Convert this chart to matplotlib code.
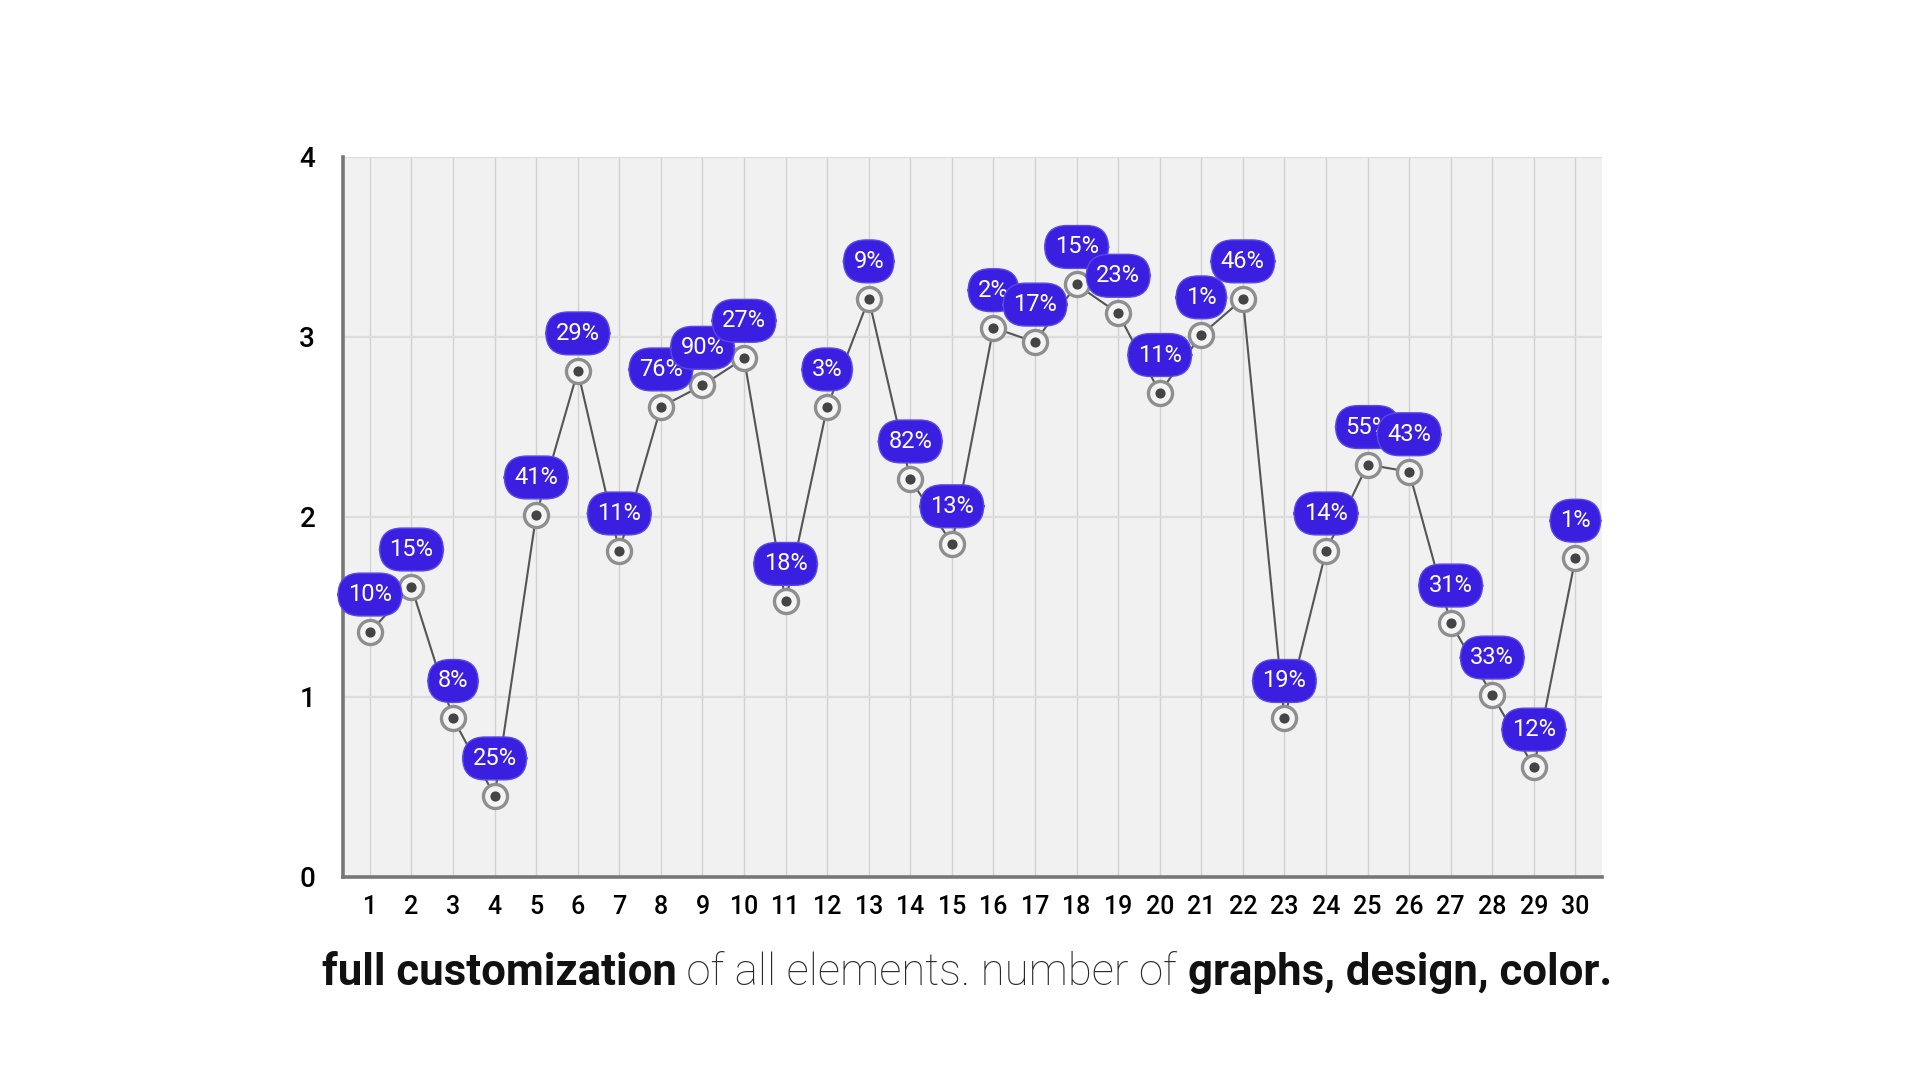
import matplotlib.pyplot as plt
import numpy as np

days = list(range(1, 31))
values = [1.36, 1.61, 0.88, 0.45, 2.01, 2.81, 1.81, 2.61, 2.73, 2.88,
          1.53, 2.61, 3.21, 2.21, 1.85, 3.05, 2.97, 3.29, 3.13, 2.69,
          3.01, 3.21, 0.88, 1.81, 2.29, 2.25, 1.41, 1.01, 0.61, 1.77]
percents = [10, 15, 8, 25, 41, 29, 11, 76, 90, 27,
            18, 3, 9, 82, 13, 2, 17, 15, 23, 11,
            1, 46, 19, 14, 55, 43, 31, 33, 12, 1]
y_ticks = [0, 1, 2, 3, 4]

LABEL_BLUE = "#3a1fe0"

fig = plt.figure(figsize=(19.2, 10.8), dpi=100)
ax = fig.add_axes([0.1786, 0.188, 0.656, 0.667])
ax.set_facecolor("#f1f1f1")

ax.set_xlim(0.35, 30.65)
ax.set_ylim(0, 4)

# grid
for d in days:
    ax.axvline(d, color="#d2d2d2", lw=1.0, zorder=1)
for t in y_ticks[1:]:
    ax.axhline(t, color="#dddddd", lw=1.6, zorder=1)

ax.plot(days, values, color="#555555", lw=1.5, zorder=3)
ax.scatter(days, values, s=300, facecolors="#f4f4f4", edgecolors="#8e8e8e",
           linewidths=2.4, zorder=4)
ax.scatter(days, values, s=40, color="#444444", zorder=5)

for d, v, p in zip(days, values, percents):
    ax.annotate(f"{p}%", (d, v), xytext=(0, 27), textcoords="offset points",
                ha="center", va="center", color="white", fontsize=17,
                family="Roboto", zorder=6,
                bbox=dict(boxstyle="round,pad=0.42,rounding_size=0.95",
                          fc=LABEL_BLUE, ec="#5a48e8", lw=1))

ax.set_xticks(days)
ax.set_xticklabels([str(d) for d in days], fontsize=18, family="Roboto",
                   weight="medium")
ax.set_yticks(y_ticks)
ax.set_yticklabels([str(t) for t in y_ticks], fontsize=20, family="Roboto",
                   weight="medium")
ax.tick_params(length=0, pad=13)
ax.tick_params(axis="y", pad=20)

for s in ["top", "right"]:
    ax.spines[s].set_visible(False)
for s in ["left", "bottom"]:
    ax.spines[s].set_color("#777777")
    ax.spines[s].set_linewidth(2.6)

# caption built from pieces
parts = [("full customization", "bold"), (" of all elements. number of ", "light"),
         ("graphs, design, color.", "bold")]
fig.canvas.draw()
renderer = fig.canvas.get_renderer()
texts = []
for s, w in parts:
    t = fig.text(0, 0.099, s, fontsize=31.5, family="Roboto", weight=w,
                 color="#111111" if w == "bold" else "#2a2a2a", va="center")
    texts.append(t)
widths = [t.get_window_extent(renderer).width / fig.bbox.width for t in texts]
start = 0.5 - sum(widths) / 2 + 0.0035
for t, w in zip(texts, widths):
    t.set_x(start)
    start += w

fig.savefig("out.png", dpi=100, facecolor="white")
